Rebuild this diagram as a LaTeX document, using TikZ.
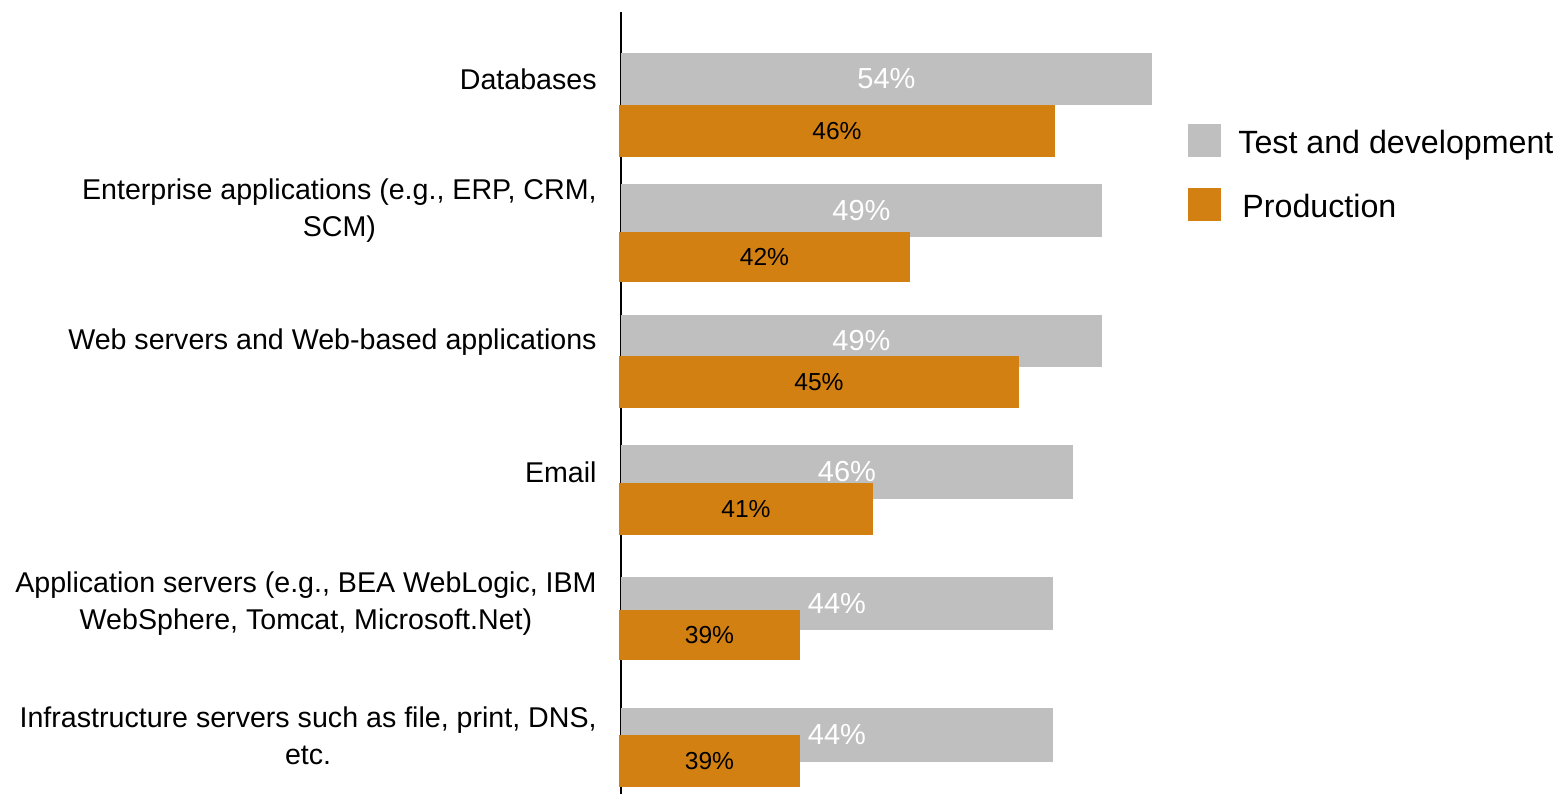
\documentclass[tikz,border=0pt]{standalone}
\usepackage{fontspec}
\setmainfont{Liberation Sans}
\definecolor{tdgray}{HTML}{BFBFBF}
\definecolor{prodorange}{HTML}{D38012}
\begin{document}
\begin{tikzpicture}[x=0.5pt,y=-0.5pt,line join=round,
		catlabel/.style={anchor=east,align=center,inner sep=0pt,font=\fontsize{14.3}{18.5}\selectfont},
		tdval/.style={text=white,inner sep=0pt,font=\fontsize{14.5}{17}\selectfont},
		prodval/.style={text=black,inner sep=0pt,font=\fontsize{12.3}{14}\selectfont},
		legtext/.style={anchor=base west,inner sep=0pt,font=\fontsize{16.1}{19}\selectfont}]
	\useasboundingbox (0,0) rectangle (1559,794);
	\fill[white] (0,0) rectangle (1559,794);
	% axis
	\draw[line width=1pt] (620.5,12) -- (620.5,794);
	% bars: grey top/bottom/end, orange top/bottom/end, values
	\foreach \n/\gt/\gb/\gx/\ot/\ob/\ox/\gv/\ov in {1/53/105/1152/105/157/1055/54/46,
			2/184/237/1102/232/282/910/49/42,
			3/315/367/1102/356/408/1019/49/45,
			4/445/499/1073/483/535/873/46/41,
			5/577/630/1053/610/660/800/44/39,
			6/708/762/1053/735/787/800/44/39}{
		\fill[tdgray] (621,\gt) rectangle (\gx,\gb);
		\path ({(621+\gx)/2},{(\gt+\gb)/2}) node[tdval] (gv\n) {\gv\%};
		\fill[prodorange] (619,\ot) rectangle (\ox,\ob);
		\path ({(619+\ox)/2},{(\ot+\ob)/2}) node[prodval] (ov\n) {\ov\%};
	}
	% categories
	\foreach \n/\y/\txt in {1/79/{Databases},
			2/211/{Enterprise applications (e.g., ERP, CRM,\\SCM)},
			3/342/{Web servers and Web-based applications},
			4/472/{Email},
			5/604/{Application servers (e.g., BEA WebLogic, IBM\\WebSphere, Tomcat, Microsoft.Net)},
			6/736/{Infrastructure servers such as file, print, DNS,\\etc.}}
	\path (597,\y) node[catlabel] (cat\n) {\txt};
	% legend
	\fill[tdgray] (1188,124) rectangle (1221,157);
	\path (1238,153) node[legtext] (legtd) {Test and development};
	\fill[prodorange] (1188,188) rectangle (1221,221);
	\path (1242,217) node[legtext] (legprod) {Production};
\end{tikzpicture}
\end{document}
